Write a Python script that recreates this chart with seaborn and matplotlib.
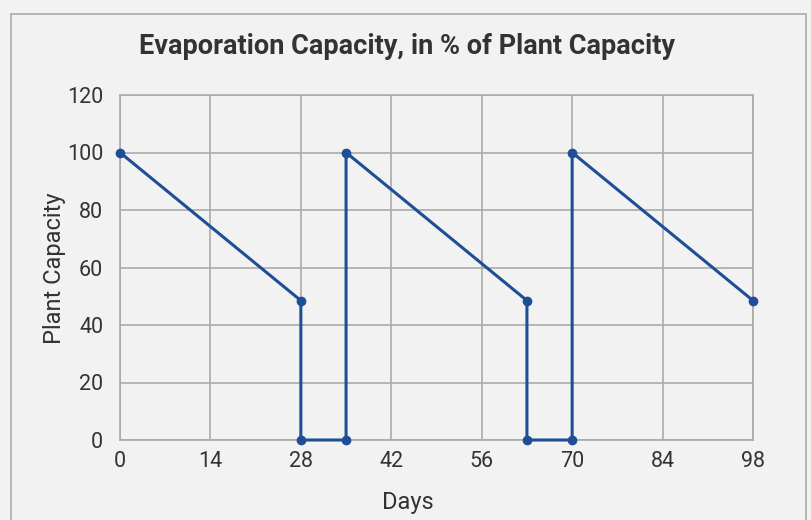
import matplotlib.pyplot as plt
import matplotlib.patches as patches
import seaborn as sns
import pandas as pd

# values
days = [0, 28, 28, 35, 35, 63, 63, 70, 70, 98]
capacity = [100, 48.5, 0, 0, 100, 48.5, 0, 0, 100, 48.5]
x_ticks = [0, 14, 28, 42, 56, 70, 84, 98]
y_ticks = [0, 20, 40, 60, 80, 100, 120]

df = pd.DataFrame({"Days": days, "Plant Capacity": capacity})

sns.set_theme(style="whitegrid")
plt.rcParams['font.family'] = ['Roboto', 'DejaVu Sans']

bg = "#f2f2f2"
fig = plt.figure(figsize=(8.11, 5.2), dpi=100, facecolor=bg)
ax = fig.add_axes([120/811, 1-440/520, (753-120)/811, (440-95)/520])
ax.set_facecolor(bg)

sns.lineplot(data=df, x="Days", y="Plant Capacity", sort=False, estimator=None,
             color="#1f4e96", linewidth=2.2, marker="o", markersize=7,
             markeredgewidth=0, ax=ax, clip_on=False, zorder=3)

ax.set_xlim(0, 98)
ax.set_ylim(0, 120)
ax.set_xticks(x_ticks)
ax.set_yticks(y_ticks)
ax.grid(True, color="#aaaaaa", linewidth=1.2)
for s in ax.spines.values():
    s.set_color("#aaaaaa")
    s.set_linewidth(1.2)
ax.tick_params(axis="both", length=0, labelsize=15.5, colors="#333333")
ax.tick_params(axis="x", pad=8)
ax.tick_params(axis="y", pad=12)
ax.set_xlabel("")
ax.set_ylabel("")
fig.text(408/811, 1-502/520, "Days", ha="center", va="center",
         fontsize=17, color="#333333")
fig.text(55/811, 1-268/520, "Plant Capacity", ha="center", va="center",
         rotation=90, fontsize=17, color="#333333")

fig.text(407/811, 1-47/520, "Evaporation Capacity, in % of Plant Capacity",
         ha="center", va="center", fontsize=19.5, fontweight="bold", color="#333333")

# outer frame
fig.patches.append(patches.Rectangle((11/811, -0.05), (806-11)/811, 1-14/520+0.05,
                                     transform=fig.transFigure, fill=False,
                                     edgecolor="#aaaaaa", linewidth=1.2))

fig.savefig("out.png", dpi=100, facecolor=bg)
